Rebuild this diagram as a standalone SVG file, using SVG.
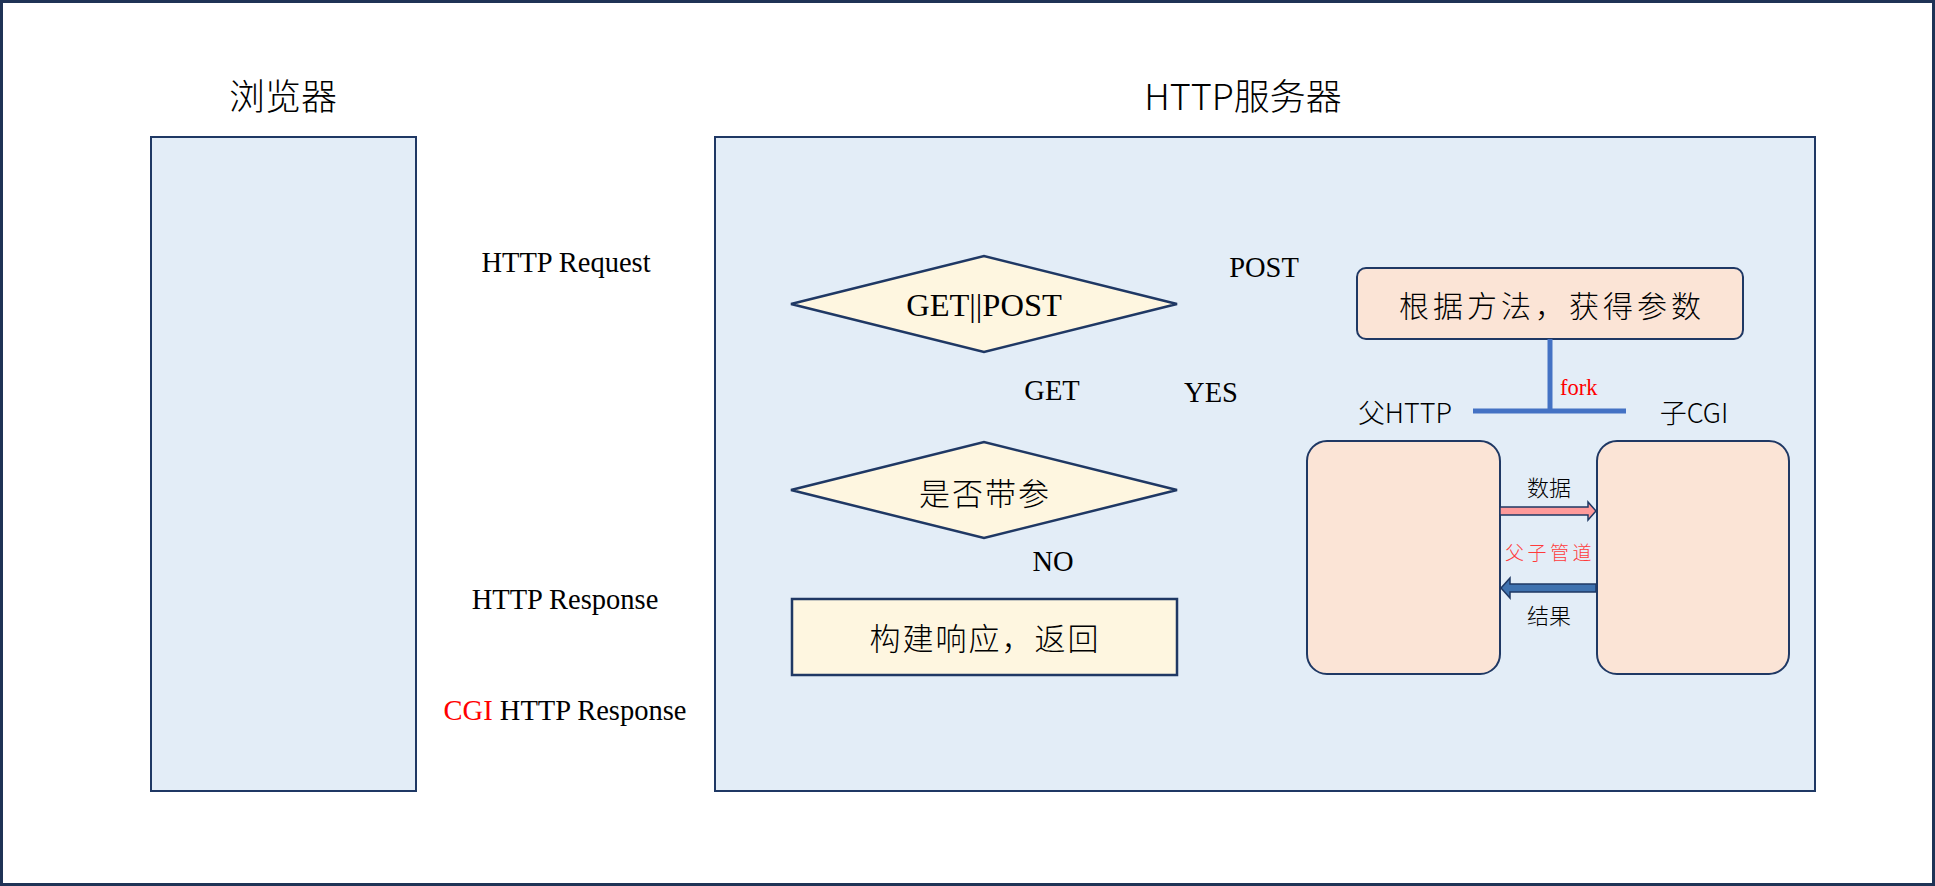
<svg xmlns="http://www.w3.org/2000/svg" width="1935" height="886" viewBox="0 0 1935 886">
<style>
.frame{fill:#E3EDF7;stroke:#1F3864;stroke-width:2}
.dia{fill:#FEF6E0;stroke:#1F3864;stroke-width:2.5}
.peach{fill:#FBE4D6;stroke:#1F3864;stroke-width:2}
.en{font-family:"Liberation Serif","Times New Roman",serif;fill:#000}
.cn{font-family:"Noto Sans CJK SC","Noto Sans",sans-serif;font-weight:300;fill:#000}
.red{fill:#FF0000}
</style>
<rect x="1.5" y="1.5" width="1932" height="883" fill="#FFFFFF" stroke="#1F3356" stroke-width="3"/>

<g id="browser">
<rect class="frame" x="151" y="137" width="265" height="654"/>
<text class="cn" x="283" y="110" font-size="36" text-anchor="middle">浏览器</text>
</g>

<g id="server">
<rect class="frame" x="715" y="137" width="1100" height="654"/>
<text class="cn" x="1243" y="110" font-size="36" text-anchor="middle">HTTP服务器</text>
</g>

<g id="labels-left">
<text class="en" x="566" y="272" font-size="28.5" text-anchor="middle">HTTP Request</text>
<text class="en" x="565" y="609" font-size="28.5" text-anchor="middle">HTTP Response</text>
<text class="en" x="565" y="720" font-size="28.5" text-anchor="middle"><tspan class="red">CGI</tspan> HTTP Response</text>
</g>

<g id="method-decision">
<polygon class="dia" points="791,304 984,256 1177,304 984,352"/>
<text class="en" x="984" y="316" font-size="32.5" text-anchor="middle">GET||POST</text>
</g>

<g id="param-decision">
<polygon class="dia" points="791,490 984,442 1177,490 984,538"/>
<text class="cn" x="985" y="505" font-size="31" text-anchor="middle" letter-spacing="2">是否带参</text>
</g>

<g id="build-response">
<rect class="dia" x="792" y="599" width="385" height="76"/>
<text class="cn" x="985" y="650" font-size="31" text-anchor="middle" letter-spacing="2">构建响应，返回</text>
</g>

<g id="get-params">
<rect class="peach" x="1357" y="268" width="386" height="71" rx="9"/>
<text class="cn" x="1552" y="317" font-size="30" text-anchor="middle" letter-spacing="4">根据方法，获得参数</text>
</g>

<g id="parent-http">
<rect class="peach" x="1307" y="441" width="193" height="233" rx="20"/>
<text class="cn" x="1405" y="423" font-size="27" text-anchor="middle">父HTTP</text>
</g>

<g id="child-cgi">
<rect class="peach" x="1597" y="441" width="192" height="233" rx="20"/>
<text class="cn" x="1694" y="423" font-size="27" text-anchor="middle">子CGI</text>
</g>

<g id="connectors">
<line x1="1550" y1="339" x2="1550" y2="411" stroke="#4472C4" stroke-width="5"/>
<line x1="1473" y1="411" x2="1626" y2="411" stroke="#4472C4" stroke-width="5"/>
<text class="en red" x="1560" y="395" font-size="22.5">fork</text>
<polygon points="1500,507 1588,507 1588,502 1596,511 1588,520 1588,515 1500,515" fill="#FF9A9A" stroke="#1F3864" stroke-width="1.5"/>
<text class="cn" x="1549" y="496" font-size="22" text-anchor="middle" font-weight="400">数据</text>
<text x="1550" y="560" font-size="19" text-anchor="middle" letter-spacing="3.5" style="font-family:'Noto Sans CJK SC','Noto Sans',sans-serif;font-weight:300;fill:#FF3B3B">父子管道</text>
<polygon points="1596,584 1510,584 1510,578 1501,588 1510,598 1510,592 1596,592" fill="#3F72AF" stroke="#1F3864" stroke-width="1.5"/>
<text class="cn" x="1549" y="624" font-size="22" text-anchor="middle" font-weight="400">结果</text>
</g>

<g id="branch-labels">
<text class="en" x="1264" y="277" font-size="28.5" text-anchor="middle">POST</text>
<text class="en" x="1052" y="400" font-size="28.5" text-anchor="middle">GET</text>
<text class="en" x="1211" y="402" font-size="28.5" text-anchor="middle">YES</text>
<text class="en" x="1053" y="571" font-size="28.5" text-anchor="middle">NO</text>
</g>
</svg>
